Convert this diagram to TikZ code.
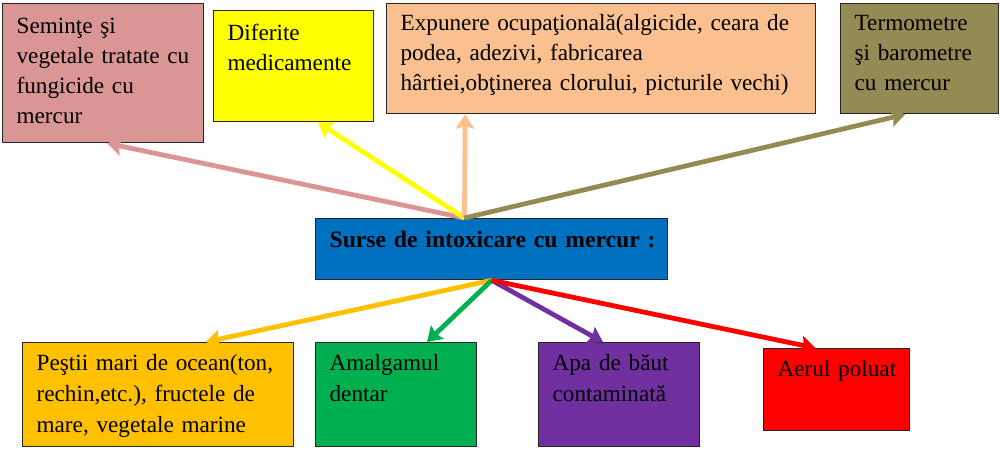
\documentclass[tikz,border=0pt]{standalone}
\usepackage{fontspec}
\setmainfont{Liberation Serif}
\usepackage{xcolor}
\usetikzlibrary{arrows.meta, calc}

\definecolor{seedpink}{HTML}{D99694}
\definecolor{drugyellow}{HTML}{FFFF00}
\definecolor{workpeach}{HTML}{FAC090}
\definecolor{gaugeolive}{HTML}{948A54}
\definecolor{hubblue}{HTML}{0070C0}
\definecolor{fishgold}{HTML}{FFC000}
\definecolor{amalgamgreen}{HTML}{00B050}
\definecolor{waterpurple}{HTML}{7030A0}
\definecolor{airred}{HTML}{FF0000}

\begin{document}
\begin{tikzpicture}[x=0.025cm, y=-0.025cm, font=\fontsize{16.5}{21.3}\selectfont]
    % Styles
    \tikzstyle{source} = [rectangle, draw=black!85, line width=0.9pt, anchor=north west, align=left, inner xsep=0.35cm, inner ysep=0pt]
    \tikzstyle{lower} = [source, font=\fontsize{16.5}{22}\selectfont, text height=0.7cm]
    \tikzstyle{arrow} = [line width=3.4pt, -{Stealth[length=0.36cm, width=0.46cm, inset=0.06cm]}]

    \useasboundingbox (0,0) rectangle (1000,450);

    % Central node
    \node [source, fill=hubblue, text width=8.1cm, text height=0.725cm, text depth=0.8cm,
           font=\fontsize{16.8}{21.3}\selectfont\bfseries] (hub) at (315,218) {\mbox{Surse de intoxicare cu mercur :}};
    \coordinate (hubtop) at ($(hub.north west)!0.423!(hub.north east)$);

    % Upper row
    \node [source, fill=seedpink, text width=4.325cm, text height=0.75cm, text depth=2.725cm] (seeds) at (2,3)
        {Seminţe şi\\ vegetale tratate cu\\ fungicide cu\\ mercur};
    \node [source, fill=drugyellow, text width=3.3cm, text height=0.75cm, text depth=2.025cm] (drugs) at (213,10)
        {Diferite\\ medicamente};
    \node [source, fill=workpeach, text width=10.025cm, text height=0.68cm, text depth=2.07cm] (work) at (386,3)
        {Expunere ocupaţională(algicide, ceara de\\ podea, adezivi, fabricarea\\ hârtiei,obţinerea clorului, picturile vechi)};
    \node [source, fill=gaugeolive, text width=3.25cm, text height=0.68cm, text depth=2.07cm] (gauges) at (840,3)
        {Termometre\\ şi barometre\\ cu mercur};

    % Lower row
    \node [lower, fill=fishgold, text width=6.075cm, text depth=1.9cm] (fish) at (22,342)
        {Peştii mari de ocean(ton,\\ rechin,etc.), fructele de\\ mare, vegetale marine};
    \node [lower, fill=amalgamgreen, text width=3.325cm, text depth=1.9cm] (amalgam) at (315,342)
        {Amalgamul\\ dentar};
    \node [lower, fill=waterpurple, text width=3.325cm, text depth=1.9cm] (water) at (538,342)
        {Apa de băut\\ contaminată};
    \node [lower, fill=airred, text width=2.95cm, text depth=1.35cm] (air) at (763,348)
        {\mbox{Aerul poluat}};

    % Connections
    \draw [arrow, seedpink] (hubtop) -- ($(seeds.south west)!0.52!(seeds.south east)$);
    \draw [arrow, drugyellow] (hubtop) -- ($(drugs.south west)!0.65!(drugs.south east)$);
    \draw [arrow, workpeach] (hubtop) -- ($(work.south west)!0.184!(work.south east)$);
    \draw [arrow, gaugeolive] (hubtop) -- ($(gauges.south west)!0.41!(gauges.south east)$);

    \draw [arrow, fishgold] (hub.south) -- ($(fish.north west)!0.675!(fish.north east)$);
    \draw [arrow, amalgamgreen] (hub.south) -- ($(amalgam.north west)!0.69!(amalgam.north east)$);
    \draw [arrow, waterpurple] (hub.south) -- ($(water.north west)!0.40!(water.north east)$);
    \draw [arrow, airred] (hub.south) -- ($(air.north west)!0.356!(air.north east)$);

\end{tikzpicture}
\end{document}
